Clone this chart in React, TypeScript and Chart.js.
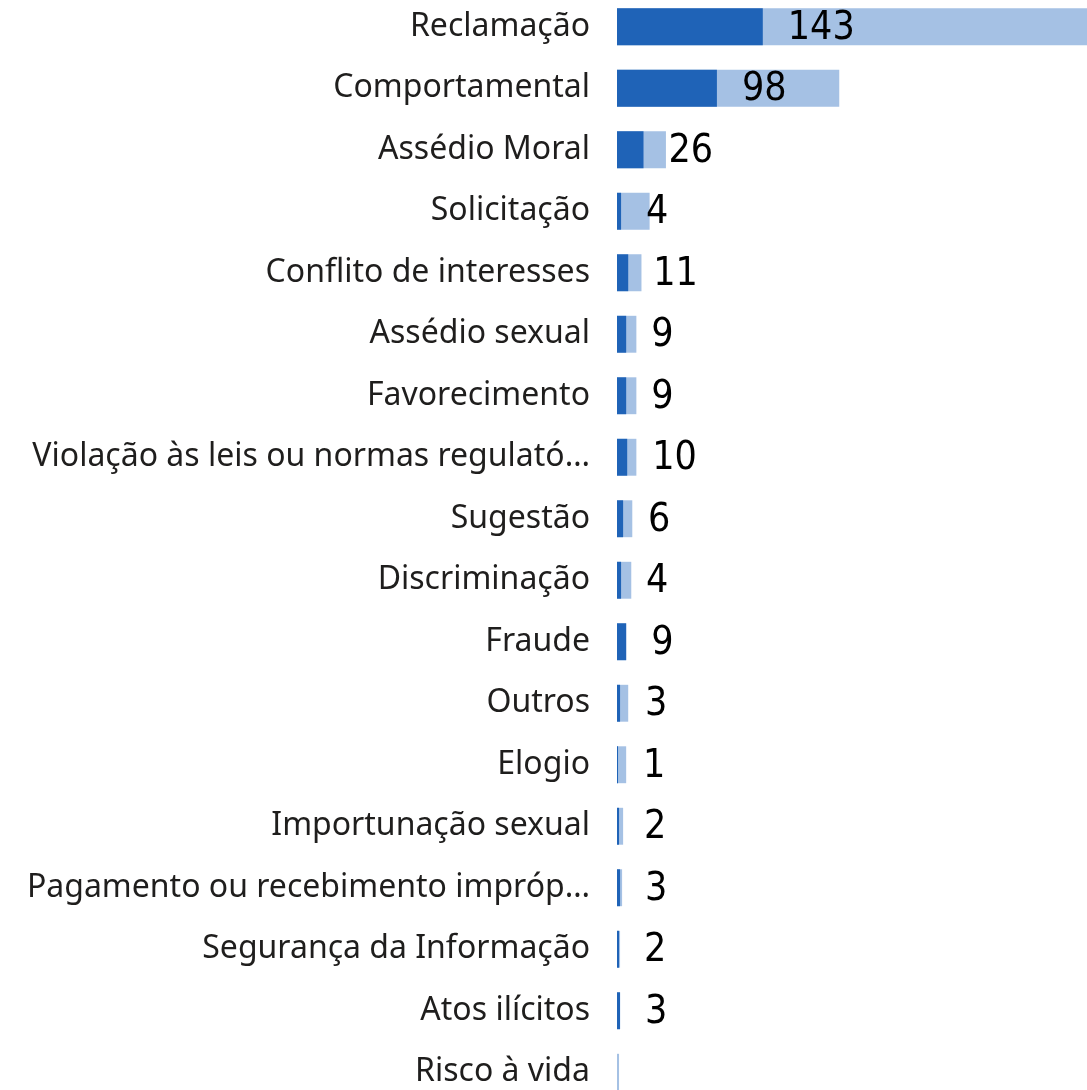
import React, { useEffect, useRef } from "react";
import { Chart, registerables } from "chart.js";

Chart.register(...registerables);

const categories = [
  "Reclamação",
  "Comportamental",
  "Assédio Moral",
  "Solicitação",
  "Conflito de interesses",
  "Assédio sexual",
  "Favorecimento",
  "Violação às leis ou normas regulató…",
  "Sugestão",
  "Discriminação",
  "Fraude",
  "Outros",
  "Elogio",
  "Importunação sexual",
  "Pagamento ou recebimento impróp…",
  "Segurança da Informação",
  "Atos ilícitos",
  "Risco à vida",
];

const darkValues = [143, 98, 26, 4, 11, 9, 9, 10, 6, 4, 9, 3, 1, 2, 3, 2, 3, 0];
const lightValues = [461, 218, 48, 32, 24, 19, 19, 19, 15, 14, 9, 11, 9, 6, 5, 3, 3, 2];

const DARK = "#1F63B7";
const LIGHT = "#A5C1E4";

const labelPlugin = {
  id: "darkLabels",
  afterDatasetsDraw(chart: any) {
    const ctx = chart.ctx;
    const xs = chart.scales.x;
    const meta = chart.getDatasetMeta(0);
    ctx.save();
    ctx.font = "39px 'DejaVu Sans Condensed', 'Liberation Sans Narrow', 'Noto Sans', sans-serif";
    ctx.fillStyle = "#000000";
    ctx.textAlign = "left";
    ctx.textBaseline = "middle";
    darkValues.forEach((v, i) => {
      if (!v) return;
      const x = xs.getPixelForValue(v) + 25;
      const y = meta.data[i].y + 2;
      ctx.fillText(String(v), x, y);
    });
    ctx.restore();
  },
};

export default function App() {
  const ref = useRef<HTMLCanvasElement>(null);
  useEffect(() => {
    const chart = new Chart(ref.current!, {
      type: "bar",
      data: {
        labels: categories,
        datasets: [
          {
            label: "dark",
            data: darkValues,
            backgroundColor: DARK,
            grouped: false,
            categoryPercentage: 1,
            barPercentage: 0.6,
          } as any,
          {
            label: "light",
            data: lightValues,
            backgroundColor: LIGHT,
            grouped: false,
            categoryPercentage: 1,
            barPercentage: 0.6,
          } as any,
        ],
      },
      options: {
        indexAxis: "y",
        responsive: false,
        animation: false,
        devicePixelRatio: 1,
        layout: { padding: 0 },
        plugins: { legend: { display: false }, tooltip: { enabled: false } },
        scales: {
          x: { display: false, min: 0, max: 461 },
          y: {
            grid: { display: false, drawTicks: false },
            border: { display: false },
            ticks: {
              padding: 27,
              color: "#1F1E1D",
              font: { family: "'Noto Sans', 'Open Sans', sans-serif", size: 32 },
            },
            afterFit(axis: any) {
              axis.width = 617;
              axis.paddingTop = 0;
              axis.paddingBottom = 0;
            },
          },
        },
      },
      plugins: [labelPlugin],
    });
    return () => chart.destroy();
  }, []);
  return (
    <div style={{ position: "fixed", left: 0, top: 0, width: 1087, height: 1090, overflow: "hidden", background: "#fff" }}>
      <canvas ref={ref} width={1087} height={1107} style={{ position: "absolute", left: 0, top: -4 }} />
    </div>
  );
}
